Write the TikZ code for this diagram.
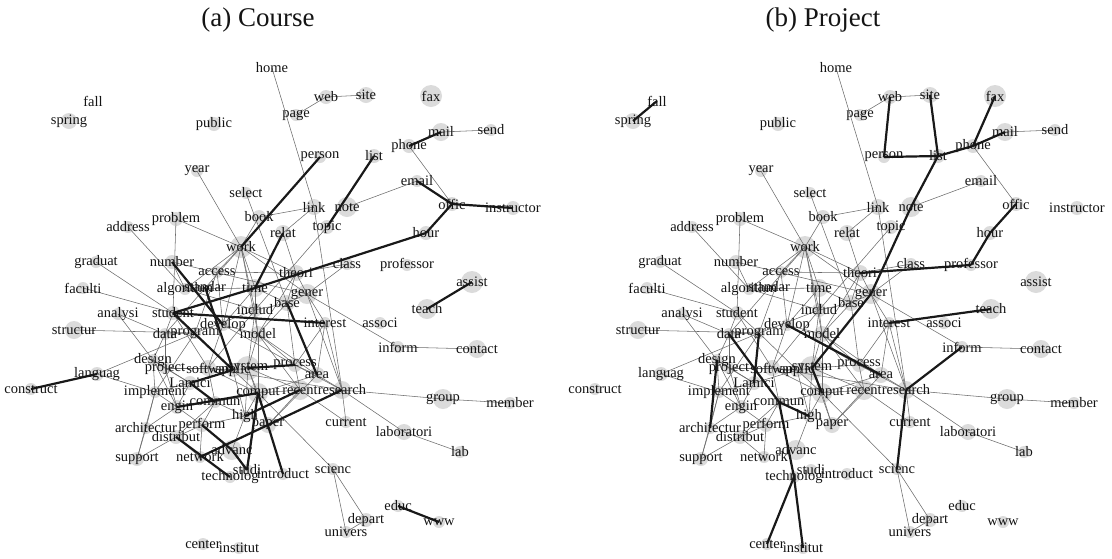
\documentclass[tikz,border=0pt]{standalone}
\usepackage{fontspec}
\setmainfont{Liberation Serif}
\pgfdeclarelayer{disks}
\pgfdeclarelayer{edges}
\pgfsetlayers{disks,edges,main}

% words and their common (thin) links, drawn in both panels
\newcommand\wordnet{%
  \foreach \n/\x/\y/\r in {fall/93/101/0, spring/69/121/8, public/214/124/7,
      home/272/68/0, web/326/97/7, site/366/95/8, page/296/115/6, fax/431/96/11,
      mail/441/132/9, send/491/130/6, phone/409/146/7, person/320/157/6,
      list/374/156/7, email/417/181/6, link/314/207/8, note/347/207/10,
      offic/452/204/7, instructor/513/208/7, topic/327/227/7, hour/426/233/7,
      relat/283/233/8, year/197/171/6, select/246/193/6, problem/176/219/7,
      address/128/227/6, book/259/217/7, work/241/247/11, graduat/96/262/6,
      number/172/262/7, access/217/272/6, faculti/83/288/6, algorithm/185/289/6,
      standar/205/287/0, time/255/288/9, analysi/118/314/6, student/173/313/7,
      includ/255/310/7, develop/223/325/6, structur/74/330/9, data/165/334/6,
      program/195/333/6, model/258/334/8, design/153/360/6, project/165/368/6,
      softwar/208/368/8, applic/233/370/7, system/248/368/12, languag/97/374/7,
      Lamici/190/383/7, construct/31/389/6, implement/155/392/6, comput/258/393/10,
      commun/215/402/6, engin/177/407/7, high/245/416/6, class/347/264/6,
      professor/407/265/6, theori/296/273/8, assist/472/282/11, gener/307/294/10,
      base/287/303/8, teach/427/309/10, interest/325/323/6, associ/380/323/6,
      inform/398/347/6, contact/477/349/9, process/295/365/7, area/317/375/8,
      recent/300/390/10, research/342/390/9, group/443/399/10, member/510/403/6,
      architectur/146/428/6, perform/202/425/7, paper/268/425/8, current/346/422/6,
      laboratori/404/432/8, distribut/176/437/7, advanc/232/450/10, lab/460/452/6,
      support/137/459/7, network/200/457/6, scienc/333/469/6, studi/247/470/6,
      technolog/230/477/6, introduct/283/474/6, educ/398/506/6, www/439/522/6,
      depart/366/520/7, univers/346/532/6, center/203/544/6, institut/239/548/6}{
    \node [word] (\n) at (\x,\y) {\n};
    \begin{pgfonlayer}{disks}
      \fill [disk] (\n.center) circle (\r);
    \end{pgfonlayer}
  }
  \begin{pgfonlayer}{edges}
  \foreach \a/\b in {home/link, page/web, web/site, mail/send, phone/offic,
      email/note, link/book, link/relat, link/research, topic/includ, year/work,
      problem/work, book/work, select/base, address/algorithm, problem/student,
      graduat/student, faculti/student, analysi/data, analysi/design,
      structur/program, number/algorithm, number/gener, languag/program,
      languag/implement, algorithm/time, work/access, work/algorithm, work/time,
      work/includ, work/develop, work/model, work/theori, work/data, work/gener,
      relat/theori, time/includ, time/base, theori/base, theori/model,
      theori/gener, class/theori, class/gener, gener/base, gener/interest,
      gener/inform, gener/research, base/model, base/process, includ/model,
      includ/program, includ/system, includ/softwar, student/data,
      student/program, student/softwar, access/program, access/develop,
      develop/model, develop/process, develop/softwar, data/project, data/design,
      program/applic, program/implement, model/system, model/comput, model/area,
      model/recent, design/project, design/implement, design/engin,
      project/Lamici, project/engin, softwar/applic, softwar/comput,
      softwar/commun, applic/system, applic/comput, applic/high, system/comput,
      system/process, system/recent, system/paper, system/high,
      softwar/research, Lamici/implement, Lamici/engin, implement/engin,
      implement/architectur, engin/architectur, engin/perform, commun/perform,
      commun/distribut, commun/high, commun/comput, comput/high, comput/paper,
      comput/scienc, comput/recent, high/advanc, high/perform, perform/network,
      perform/distribut, architectur/support, distribut/support,
      distribut/network, support/implement, interest/process, interest/area,
      interest/research, process/area, process/recent, process/research,
      area/research, recent/paper, recent/current, research/current,
      research/laboratori, research/group, laboratori/lab, group/member,
      inform/contact, scienc/univers, scienc/depart, depart/univers,
      includ/base, time/develop, data/program, design/Lamici, applic/Lamici,
      comput/area, paper/area, access/theori, algorithm/includ,
      project/softwar, model/process}
    \draw [weak] (\a.center) -- (\b.center);
  \end{pgfonlayer}
}

\begin{document}
\begin{tikzpicture}[
	x=1pt, y=-1pt,
	word/.style={inner sep=0pt, text=black!92, font=\fontsize{14.5}{14.5}\selectfont},
	disk/.style={fill=black!14},
	weak/.style={draw=black!58, line width=0.55pt},
	strong/.style={draw=black!90, line width=2.2pt},
	caption/.style={font=\fontsize{27}{27}\selectfont, text=black!92}
	]
	\useasboundingbox (0,0) rectangle (1112,558);
	\node [caption] (capa) at (258,20) {(a) Course};
	\node [caption] (capb) at (823,20) {(b) Project};

	\begin{scope}[name prefix=a-]
	\wordnet
	\begin{pgfonlayer}{edges}
	\foreach \a/\b in {construct/languag, work/person, list/topic, relat/time,
	    hour/time, offic/hour, email/offic, offic/instructor, phone/mail,
	    teach/assist, educ/www, student/time, student/interest, number/develop,
	    standar/applic, student/applic, base/area, system/process, Lamici/applic,
	    engin/comput, Lamici/commun, comput/introduct, comput/studi,
	    research/network, perform/advanc, advanc/studi, distribut/technolog,
	    recent/high}
	  \draw [strong] (\a.center) -- (\b.center);
	\end{pgfonlayer}
	\end{scope}

	\begin{scope}[xshift=564pt, name prefix=b-]
	\wordnet
	\begin{pgfonlayer}{edges}
	\foreach \a/\b in {fall/spring, web/person, site/list, person/list,
	    list/phone, phone/fax, phone/mail, list/note, note/gener, offic/hour,
	    hour/professor, professor/theori, teach/interest, inform/research,
	    research/scienc, gener/system, develop/area, data/commun,
	    commun/technolog, program/Lamici, design/architectur, commun/high,
	    system/comput, technolog/center, technolog/institut}
	  \draw [strong] (\a.center) -- (\b.center);
	\end{pgfonlayer}
	\end{scope}
\end{tikzpicture}
\end{document}
